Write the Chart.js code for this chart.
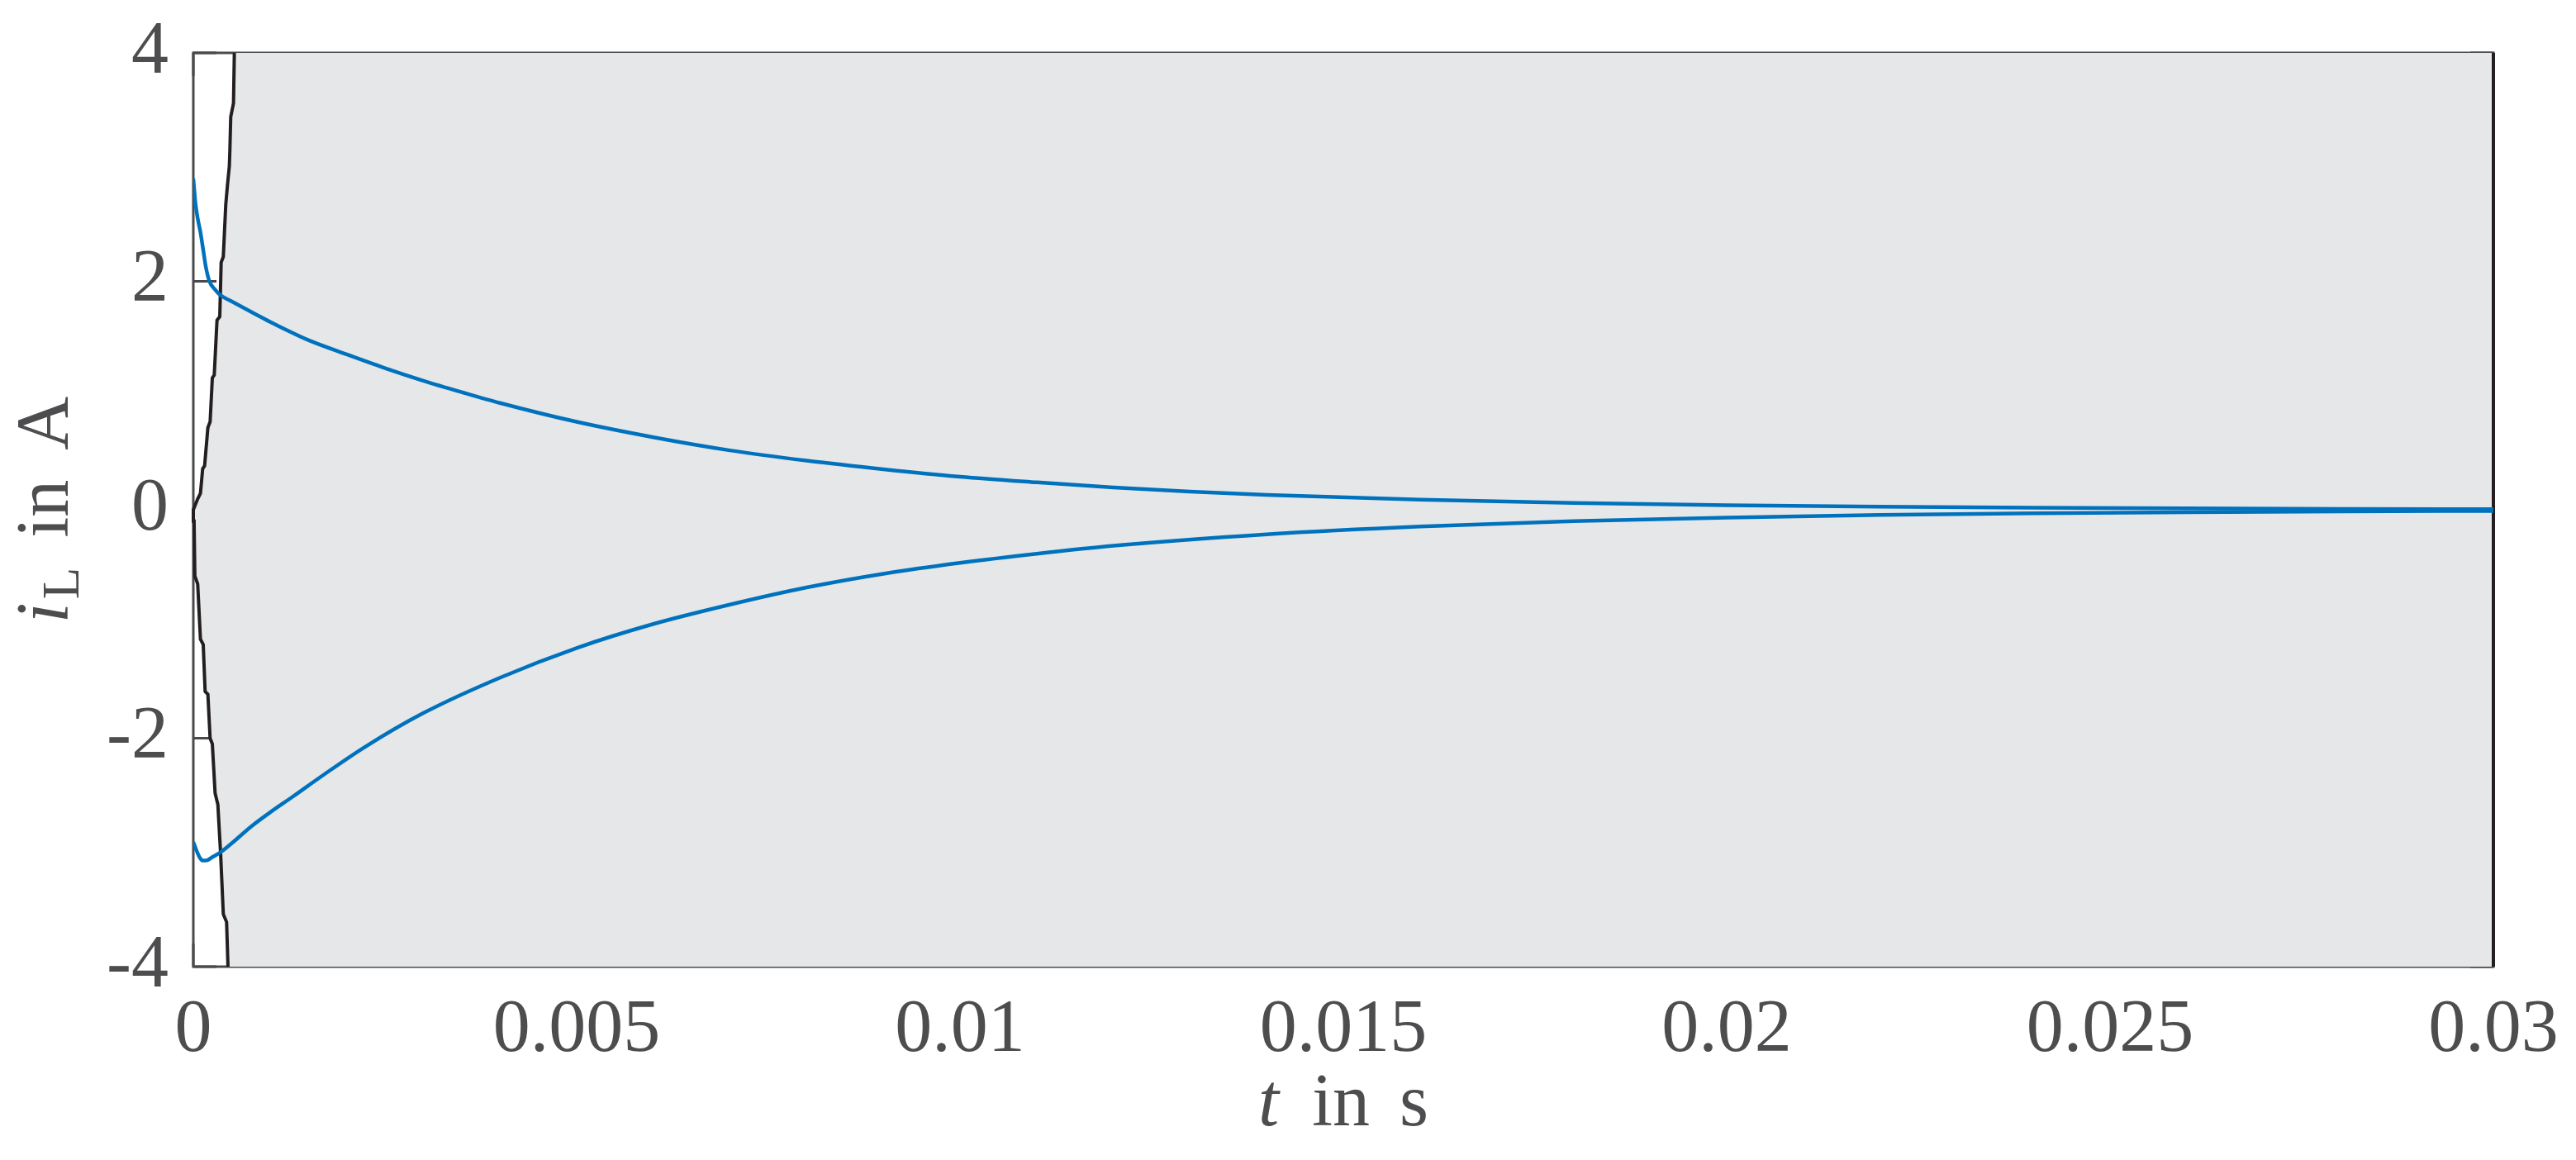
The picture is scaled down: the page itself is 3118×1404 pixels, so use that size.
<!DOCTYPE html>
<html>
<head>
<meta charset="utf-8">
<script src="https://cdn.jsdelivr.net/npm/chart.js@4/dist/chart.umd.min.js"></script>
<style>
html,body{margin:0;padding:0;background:#ffffff;}
#wrap{width:3118px;height:1404px;position:relative;}
</style>
</head>
<body>
<div id="wrap"><canvas id="c" width="3118" height="1404"></canvas></div>
<script>
// ---- data ----
const xTickValues = [0, 0.005, 0.01, 0.015, 0.02, 0.025, 0.03];
const xTickLabels = ['0', '0.005', '0.01', '0.015', '0.02', '0.025', '0.03'];
const yTickValues = [-4, -2, 0, 2, 4];
const yTickLabels = ['-4', '-2', '0', '2', '4'];
const xTitleParts = [{text: 't', italic: true}, {text: ' in s'}];
const yTitleParts = [{text: 'i', italic: true}, {text: 'L', sub: true}, {text: ' in A'}];

// upper current trajectory
const tUpper = [0, 0.00003, 0.00006, 0.000093, 0.00013, 0.000165, 0.00021, 0.00028, 0.00035, 0.0005, 0.00065, 0.00083, 0.001, 0.00115, 0.0015, 0.002, 0.0025, 0.003, 0.0035, 0.004, 0.005, 0.006, 0.007, 0.008, 0.009, 0.01, 0.011, 0.012, 0.013, 0.014, 0.016, 0.018, 0.02, 0.022, 0.024, 0.026, 0.028, 0.03];
const iUpper = [2.90, 2.67, 2.54, 2.43, 2.27, 2.12, 2.00, 1.93, 1.88, 1.825, 1.77, 1.705, 1.645, 1.595, 1.485, 1.36, 1.24, 1.13, 1.03, 0.935, 0.77, 0.635, 0.52, 0.43, 0.355, 0.29, 0.24, 0.195, 0.16, 0.13, 0.088, 0.059, 0.04, 0.027, 0.018, 0.012, 0.008, 0.005];

// lower current trajectory
const tLower = [0, 0.00004, 0.00008, 0.00012, 0.00017, 0.00025, 0.00035, 0.0005, 0.00076, 0.001, 0.0013, 0.0017, 0.00223, 0.003, 0.004, 0.005, 0.006, 0.007, 0.008, 0.009, 0.01, 0.011, 0.012, 0.014, 0.016, 0.018, 0.02, 0.022, 0.024, 0.026, 0.028, 0.03];
const iLower = [-2.91, -2.98, -3.04, -3.07, -3.07, -3.04, -3.00, -2.92, -2.77, -2.65, -2.51, -2.32, -2.08, -1.78, -1.47, -1.21, -1.00, -0.83, -0.68, -0.56, -0.465, -0.385, -0.315, -0.215, -0.147, -0.10, -0.068, -0.046, -0.031, -0.021, -0.015, -0.01];

// region boundary, upper branch (from 0 up to 4)
const tBoundTop = [0, 0.000057, 0.000093, 0.000122, 0.000147, 0.00019, 0.000219, 0.000248, 0.000273, 0.000309, 0.000345, 0.000363, 0.000391, 0.000423, 0.000445, 0.00047, 0.000477, 0.000488, 0.000524, 0.000535];
const iBoundTop = [0, 0.095, 0.143, 0.36, 0.384, 0.72, 0.77, 1.155, 1.18, 1.66, 1.69, 2.166, 2.215, 2.67, 2.84, 3.01, 3.15, 3.44, 3.56, 4];
// region boundary, lower branch (from 0 down to -4)
const tBoundBot = [0, 0.00001, 0.00002, 0.000057, 0.000093, 0.000129, 0.000154, 0.00019, 0.000219, 0.000248, 0.000284, 0.00032, 0.000356, 0.000391, 0.000434, 0.000452];
const iBoundBot = [0, -0.1, -0.58, -0.65, -1.133, -1.18, -1.59, -1.615, -2.0, -2.05, -2.48, -2.58, -3.01, -3.54, -3.61, -4];
// right edge of region
const tRightEdge = [0.03, 0.03];
const iRightEdge = [-4, 4];

// ---- build datasets ----
const pts = (xs, ys) => xs.map((x, k) => ({x: x, y: ys[k]}));
const boundaryPts = pts(tBoundBot, iBoundBot).reverse().concat(pts(tBoundTop, iBoundTop).slice(1));
const regionPts = [{x: tRightEdge[0], y: iRightEdge[0]}].concat(boundaryPts, [{x: tRightEdge[1], y: iRightEdge[1]}]);

const TEXT = '#4d4d4f';
const AXIS = '#4a4a4c';
const FONT = "'Liberation Serif', 'DejaVu Serif', serif";

const framePlugin = {
  id: 'frame',
  beforeDatasetsDraw(chart) {
    const {ctx, chartArea: a, scales} = chart;
    ctx.save();
    ctx.strokeStyle = AXIS;
    ctx.lineWidth = 3;
    const tl = 28;
    ctx.beginPath();
    yTickValues.forEach(v => {
      const y = scales.y.getPixelForValue(v);
      ctx.moveTo(a.left, y); ctx.lineTo(a.left + tl, y);
      ctx.moveTo(a.right, y); ctx.lineTo(a.right - tl, y);
    });
    xTickValues.forEach(v => {
      const x = scales.x.getPixelForValue(v);
      ctx.moveTo(x, a.bottom); ctx.lineTo(x, a.bottom - tl);
      ctx.moveTo(x, a.top); ctx.lineTo(x, a.top + tl);
    });
    ctx.stroke();
    ctx.strokeRect(a.left, a.top, a.right - a.left, a.bottom - a.top);
    ctx.restore();
  },
  afterDraw(chart) {
    const {ctx, chartArea: a} = chart;
    const size = 90, subSize = 63, spaceW = 36;
    const fontOf = p => (p.italic ? 'italic ' : '') + (p.sub ? subSize : size) + 'px ' + FONT;
    // lay out words, using a wider (LaTeX-like) inter-word space
    const layout = parts => {
      const items = [];
      let x = 0;
      parts.forEach(p => {
        ctx.font = fontOf(p);
        p.text.split(/( )/).forEach(w => {
          if (w === '') return;
          if (w === ' ') { x += spaceW; return; }
          items.push({text: w, font: fontOf(p), x: x, dy: p.sub ? 13 : 0});
          x += ctx.measureText(w).width + (p.italic ? 4 : 0);
        });
      });
      return {items, w: x};
    };
    const drawParts = parts => {
      const L = layout(parts);
      L.items.forEach(it => {
        ctx.font = it.font;
        ctx.fillText(it.text, it.x - L.w / 2, it.dy);
      });
    };
    ctx.save();
    ctx.fillStyle = TEXT;
    ctx.textBaseline = 'alphabetic';
    ctx.textAlign = 'left';
    ctx.save();
    ctx.translate((a.left + a.right) / 2, 1362);
    drawParts(xTitleParts);
    ctx.restore();
    ctx.save();
    ctx.translate(82, (a.top + a.bottom) / 2);
    ctx.rotate(-Math.PI / 2);
    drawParts(yTitleParts);
    ctx.restore();
    ctx.restore();
  }
};

const blueLine = {showLine: true, borderColor: '#0072bd', borderWidth: 4.5, pointRadius: 0, fill: false, cubicInterpolationMode: 'monotone'};

new Chart(document.getElementById('c'), {
  type: 'scatter',
  data: {
    datasets: [
      Object.assign({label: 'upper', data: pts(tUpper, iUpper)}, blueLine),
      Object.assign({label: 'lower', data: pts(tLower, iLower)}, blueLine),
      {label: 'boundary', data: boundaryPts, showLine: true, borderColor: '#231f20', borderWidth: 4, pointRadius: 0, fill: false, tension: 0, clip: false},
      {label: 'edge', data: pts(tRightEdge, iRightEdge), showLine: true, borderColor: '#231f20', borderWidth: 4, pointRadius: 0, fill: false, clip: false},
      {label: 'region', data: regionPts, showLine: true, borderWidth: 0, borderColor: 'rgba(0,0,0,0)', backgroundColor: '#e6e7e9', pointRadius: 0, fill: 'shape', tension: 0}
    ]
  },
  options: {
    responsive: false,
    animation: false,
    devicePixelRatio: 1,
    layout: {padding: {left: 0, right: 100, top: 64, bottom: 0}},
    plugins: {legend: {display: false}, tooltip: {enabled: false}},
    scales: {
      x: {
        type: 'linear', min: 0, max: 0.03,
        afterBuildTicks: s => { s.ticks = xTickValues.map(v => ({value: v})); },
        afterFit: s => { s.height = 234; s.paddingLeft = 0; s.paddingRight = 0; },
        grid: {display: false, drawTicks: false},
        border: {display: false},
        ticks: {
          autoSkip: false, maxRotation: 0, padding: 24, color: TEXT,
          font: {family: FONT, size: 90},
          callback: (v, idx) => xTickLabels[idx]
        }
      },
      y: {
        type: 'linear', min: -4, max: 4,
        afterBuildTicks: s => { s.ticks = yTickValues.map(v => ({value: v})); },
        afterFit: s => { s.width = 234; s.paddingTop = 0; s.paddingBottom = 0; },
        grid: {display: false, drawTicks: false},
        border: {display: false},
        ticks: {
          autoSkip: false, padding: 30, color: TEXT,
          font: {family: FONT, size: 90},
          callback: (v, idx) => yTickLabels[idx]
        }
      }
    }
  },
  plugins: [framePlugin]
});
</script>
</body>
</html>
